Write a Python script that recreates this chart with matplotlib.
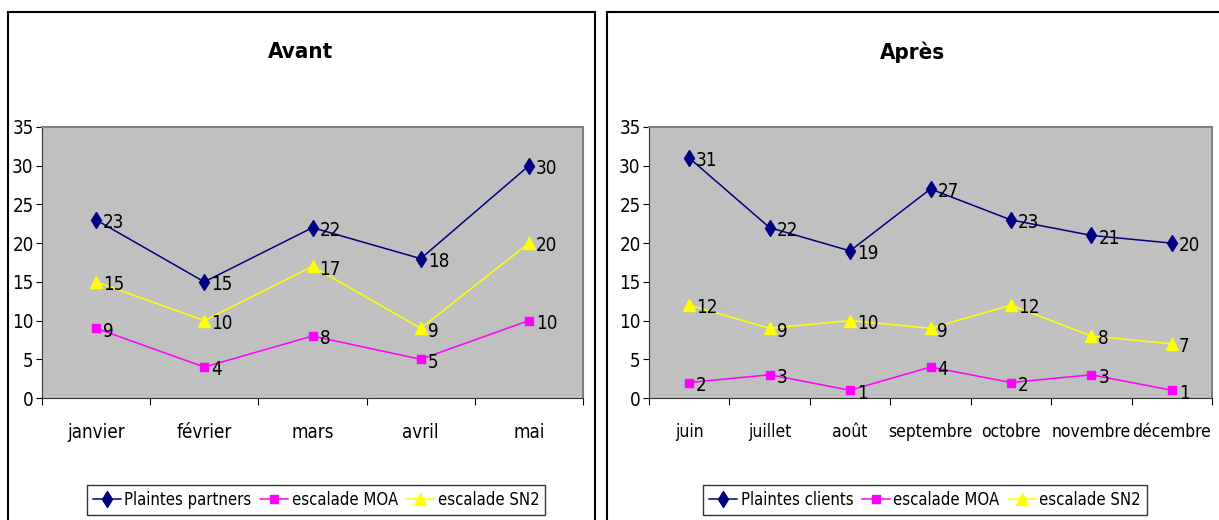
import matplotlib.pyplot as plt
from matplotlib.patches import Rectangle

plt.rcParams['font.family'] = ['DejaVu Sans']
plt.rcParams['font.stretch'] = 'condensed'

months_avant = ['janvier', 'février', 'mars', 'avril', 'mai']
partners_avant = [23, 15, 22, 18, 30]
moa_avant = [9, 4, 8, 5, 10]
sn2_avant = [15, 10, 17, 9, 20]

months_apres = ['juin', 'juillet', 'août', 'septembre', 'octobre', 'novembre', 'décembre']
clients_apres = [31, 22, 19, 27, 23, 21, 20]
moa_apres = [2, 3, 1, 4, 2, 3, 1]
sn2_apres = [12, 9, 10, 9, 12, 8, 7]

W, H = 1219, 520
fig = plt.figure(figsize=(W / 100, H / 100), dpi=100)

def px(x0, y0, x1, y1):
    return [x0 / W, 1 - y1 / H, (x1 - x0) / W, (y1 - y0) / H]

# panel borders
fig.patches.append(Rectangle((8 / W, -0.05), 587 / W, 1.05 - 12 / H, transform=fig.transFigure,
                             fill=False, ec='black', lw=1.5))
fig.patches.append(Rectangle((607 / W, -0.05), 700 / W, 1.05 - 12 / H, transform=fig.transFigure,
                             fill=False, ec='black', lw=1.5))

def draw(rect, title, months, s1, s2, s3, name1, title_x, leg_x, xfs):
    ax = fig.add_axes(rect)
    ax.set_facecolor('#C0C0C0')
    x = list(range(len(months)))
    styles = [(s1, '#000080', 'd', 8, name1),
              (s2, '#FF00FF', 's', 6, 'escalade MOA'),
              (s3, '#FFFF00', '^', 8, 'escalade SN2')]
    handles = []
    for vals, col, mk, ms, lab in styles:
        h, = ax.plot(x, vals, color=col, marker=mk, ms=ms, lw=1.1, label=lab)
        handles.append(h)
        for xi, v in zip(x, vals):
            ax.annotate(str(v), (xi, v), xytext=(5, -2), textcoords='offset points',
                        ha='left', va='center', fontsize=13.5)
    ax.set_xlim(-0.5, len(months) - 0.5)
    ax.set_ylim(0, 35)
    ax.set_yticks(range(0, 36, 5))
    ax.set_xticks([i - 0.5 for i in range(len(months) + 1)])
    ax.set_xticklabels([])
    ax.set_xticks(x, minor=True)
    ax.set_xticklabels(months, minor=True, fontsize=xfs)
    ax.tick_params(axis='x', which='minor', length=0, pad=18)
    ax.tick_params(axis='x', which='major', length=5, direction='out')
    ax.tick_params(axis='y', length=4, labelsize=13.5, pad=2)
    for s in ['top', 'right']:
        ax.spines[s].set_color('#808080')
        ax.spines[s].set_linewidth(1.5)
    for s in ['left', 'bottom']:
        ax.spines[s].set_color('#333333')
    fig.text(title_x / W, 1 - 52 / H, title, ha='center', va='center', fontsize=16, fontweight='bold')
    leg = fig.legend(handles=handles, loc='center', bbox_to_anchor=(leg_x / W, 1 - 500 / H),
                     ncol=3, frameon=True, fancybox=False, edgecolor='black', fontsize=12,
                     handlelength=1.7, handletextpad=0.2, columnspacing=0.5, borderpad=0.35)
    leg.get_frame().set_linewidth(1.0)
    return ax

draw(px(42, 127, 583, 398), 'Avant', months_avant, partners_avant, moa_avant, sn2_avant,
     'Plaintes partners', 301, 316, 13.5)
draw(px(649, 127, 1212, 398), 'Après', months_apres, clients_apres, moa_apres, sn2_apres,
     'Plaintes clients', 913, 925, 12.5)

fig.savefig('out.png', dpi=100)
